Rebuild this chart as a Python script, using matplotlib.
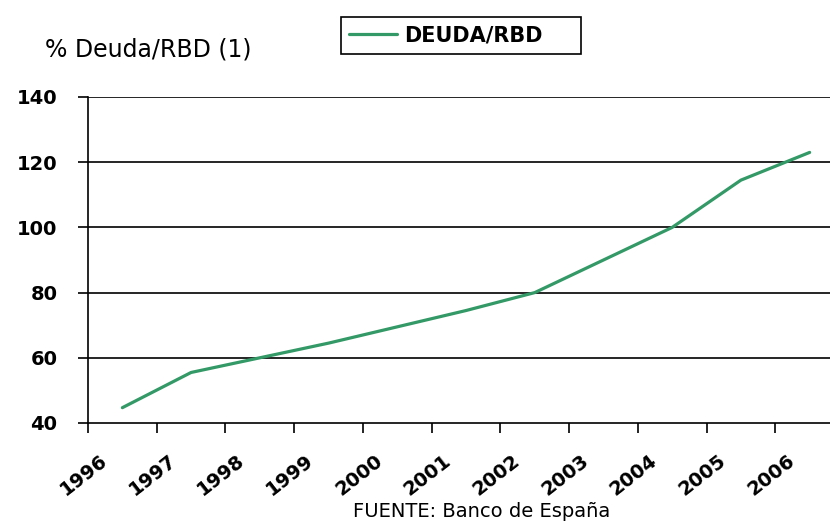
import matplotlib
matplotlib.use("Agg")
import matplotlib.pyplot as plt
from matplotlib.ticker import FixedLocator, NullFormatter
from matplotlib.transforms import ScaledTranslation
import numpy as np

# Household debt as a percentage of gross disposable income
years = ["1996", "1997", "1998", "1999", "2000", "2001",
         "2002", "2003", "2004", "2005", "2006"]
deuda_rbd = [44.7, 55.5, 60.0, 64.5, 69.5, 74.5, 80.0, 90.0, 100.0, 114.5, 123.0]
y_ticks = [40, 60, 80, 100, 120, 140]

series_label = "DEUDA/RBD"
y_title = "% Deuda/RBD (1)"
source_note = "FUENTE: Banco de España"

line_color = "#339966"
W, H = 830, 522

fig = plt.figure(figsize=(W / 100, H / 100), dpi=100)
ax = fig.add_axes([88 / W, 99 / H, 756 / W, 326 / H])

x = np.arange(len(years)) + 0.5
line, = ax.plot(x, deuda_rbd, color=line_color, lw=2.3, solid_capstyle="round",
                label=series_label, zorder=3)

ax.set_xlim(0, len(years))
ax.set_ylim(y_ticks[0], y_ticks[-1])

# horizontal gridlines
ax.set_yticks(y_ticks)
for v in y_ticks[1:]:
    ax.axhline(v, color="black", lw=1.2, zorder=1)

# spines
for s in ("top", "right"):
    ax.spines[s].set_visible(False)
for s in ("left", "bottom"):
    ax.spines[s].set_color("black")
    ax.spines[s].set_linewidth(1.2)

# category boundaries carry the ticks, labels sit near category centres
ax.xaxis.set_major_locator(FixedLocator(x))
ax.xaxis.set_minor_locator(FixedLocator(np.arange(len(years) + 1)))
ax.xaxis.set_minor_formatter(NullFormatter())
ax.set_xticklabels(years, rotation=38, ha="right", va="top", rotation_mode="anchor",
                   family="DejaVu Sans", fontweight="bold", fontsize=14)
ax.tick_params(axis="x", which="major", length=0, pad=20)
ax.tick_params(axis="x", which="minor", length=7, width=1.2, color="black")
shift = ScaledTranslation(-23 / 100, 0, fig.dpi_scale_trans)
for lbl in ax.get_xticklabels():
    lbl.set_transform(lbl.get_transform() + shift)

ax.tick_params(axis="y", length=7, width=1.2, color="black", pad=15)
for lbl in ax.get_yticklabels():
    lbl.set_family("DejaVu Sans")
    lbl.set_fontweight("bold")
    lbl.set_fontsize(14)

# axis title above the plot
fig.text(45 / W, 1 - 50 / H, y_title, fontsize=17, family="DejaVu Sans",
         va="center", ha="left")

# legend in a plain black box
leg = fig.legend(handles=[line], loc="center", mode="expand",
                 bbox_to_anchor=(341 / W, 1 - 57 / H, 240 / W, 43 / H),
                 frameon=True, fancybox=False, edgecolor="black", framealpha=1,
                 handlelength=2.3, handletextpad=0.35, borderpad=0.4, borderaxespad=0,
                 prop={"family": "DejaVu Sans", "weight": "bold", "size": 15})
leg.get_frame().set_linewidth(1.2)

# source note
fig.text(482 / W, 1 - 517 / H, source_note, fontsize=14, family="DejaVu Sans",
         ha="center", va="baseline")

fig.savefig("out.png", dpi=100)
